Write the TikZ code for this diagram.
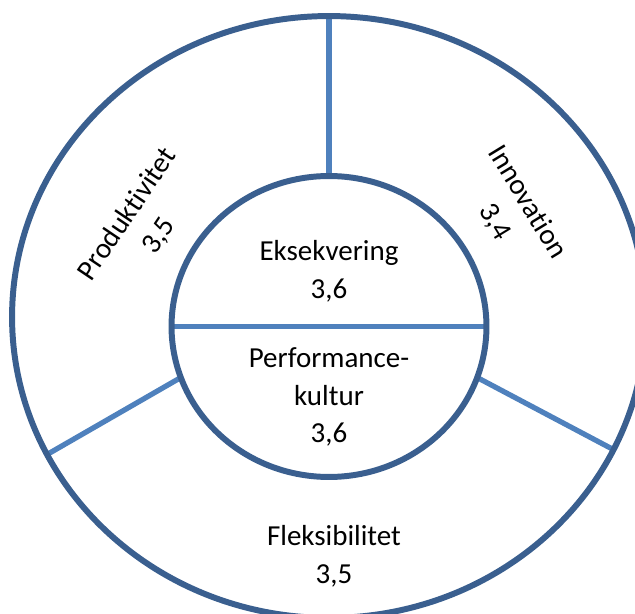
\documentclass[tikz,border=0pt]{standalone}
\usepackage{fontspec}
\setmainfont{Carlito}[Ligatures=NoCommon]
\usepackage{xcolor}
\usetikzlibrary{shapes.geometric, backgrounds}
\definecolor{ringblue}{HTML}{3A5F8F}
\definecolor{lineblue}{HTML}{4F81BD}

\begin{document}
\begin{tikzpicture}[
  x=0.02cm, y=-0.02cm,
  every node/.style={font=\fontsize{16.5}{21.5}\selectfont},
  disc/.style={ellipse, draw=ringblue, line width=3.4pt,
               inner sep=0pt, outer sep=0pt},
  divider/.style={draw=lineblue, line width=3pt},
  lbl/.style={align=center, inner sep=0pt, text=black},
]

% --- frame of the picture ---
\useasboundingbox (0,0) rectangle (635,614);
\clip (0,0) rectangle (635,614);

% --- outer ring and inner core ---
\node[disc, minimum width=12.68cm, minimum height=12.04cm] (ring) at (329,317) {};
\node[disc, minimum width=6.3cm, minimum height=6.02cm] (core) at (329,326.5) {};

% --- dividers ---
\begin{scope}[on background layer]
  \draw[divider] (core.north) -- (ring.north);
  \draw[divider] (core.west) -- (core.east);
  \draw[divider] (core.-19.5) -- (ring.-25);
  \draw[divider] (core.199.5) -- (ring.206.4);
\end{scope}

% --- labels ---
\node[lbl] (eks) at (329,271) {Eksekvering\\3,6};
\node[lbl] (perf) at (329,397) {Performance-\\kultur\\3,6};
\node[lbl] (fleks) at (334,556) {Fleksibilitet\\3,5};
\node[lbl, rotate=56] (prod) at (143,225) {Produktivitet\\3,5};
\node[lbl, rotate=-58.6] (inno) at (511,212) {Innovation\\3,4};

\end{tikzpicture}
\end{document}
